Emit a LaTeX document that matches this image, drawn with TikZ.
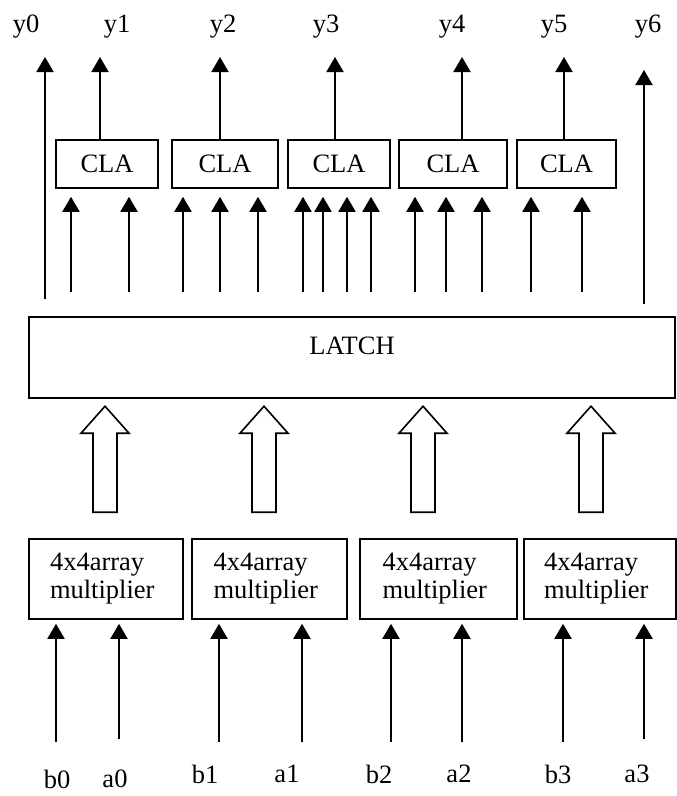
\documentclass[tikz,border=0pt]{standalone}
\usepackage{fontspec}
\setmainfont{Liberation Serif}
\usetikzlibrary{arrows.meta}

\begin{document}
\begin{tikzpicture}[x=1pt,y=-1pt,
  font=\fontsize{26.5}{28}\selectfont,
  box/.style={draw,line width=1.6pt,inner sep=0pt},
  mult/.style={box,minimum height=80pt,align=left,text width=112pt,inner xsep=20pt},
  pin/.style={inner sep=1pt},
  sig/.style={line width=2pt,-{Triangle[length=15pt,width=17pt]}},
  hollow/.style={draw,line width=1.6pt,line join=miter}]
\useasboundingbox (0,0) rectangle (677,796);

% carry look-ahead adders
\node[box,minimum width=102pt,minimum height=48pt] (cla1) at (107,164) {CLA};
\node[box,minimum width=106pt,minimum height=48pt] (cla2) at (225,164) {CLA};
\node[box,minimum width=102pt,minimum height=48pt] (cla3) at (339,164) {CLA};
\node[box,minimum width=108pt,minimum height=48pt] (cla4) at (453,164) {CLA};
\node[box,minimum width=99pt,minimum height=48pt] (cla5) at (566.5,164) {CLA};

\node[box,minimum width=646pt,minimum height=81pt,
  label={[yshift=12pt]center:LATCH}] (latch) at (352,357.5) {};

% multipliers
\node[mult,minimum width=154pt] (mul0) at (106,579) {4x4array\\multiplier};
\node[mult,minimum width=155pt] (mul1) at (269.5,579) {4x4array\\multiplier};
\node[mult,minimum width=157pt] (mul2) at (438.5,579) {4x4array\\multiplier};
\node[mult,minimum width=152pt] (mul3) at (600,579) {4x4array\\multiplier};

% outputs
\foreach \n/\x in {0/26,1/117,2/223,3/326,4/452,5/554,6/648}
  \node[pin] (y\n) at (\x,27) {y\n};
\draw[sig,shorten <=17pt] (latch.north -| 45,0) -- (45,57);
\draw[sig,shorten <=12pt] (latch.north -| 644,0) -- (644,70);
\foreach \n/\xs/\xo in {1/{71,129}/100,2/{183,220,258}/220,
    3/{303,323,347,371}/335,4/{415,446,482}/462,5/{531,582}/564}{
  \draw[sig] (cla\n.north -| \xo,0) -- (\xo,57);
  \foreach \x in \xs
    \draw[sig,shorten >=8pt] (\x,292) -- (cla\n.south -| \x,0);
}

% wide arrows into the latch
\foreach \x [count=\i from 0] in {105,264,423,591}
  \draw[hollow] (mul\i.north -| \x,0) ++(-12,-26) -- ++(0,-79) -- ++(-12,0)
    -- ++(24,-27) -- ++(24,27) -- ++(-12,0) -- ++(0,79) -- cycle;

% inputs
\node[pin] (b0) at (57,779) {b0};
\node[pin] (a0) at (115,779) {a0};
\node[pin] (b1) at (205,774) {b1};
\node[pin] (a1) at (287,774) {a1};
\node[pin] (b2) at (379,774) {b2};
\node[pin] (a2) at (459,774) {a2};
\node[pin] (b3) at (558,774) {b3};
\node[pin] (a3) at (637,774) {a3};
\foreach \n/\xb/\xa/\ya in {0/56/119/739,1/219/302/742,2/391/462/742,3/563/644/739}{
  \draw[sig,shorten >=4pt] (\xb,742) -- (mul\n.south -| \xb,0);
  \draw[sig,shorten >=4pt] (\xa,\ya) -- (mul\n.south -| \xa,0);
}
\end{tikzpicture}
\end{document}
